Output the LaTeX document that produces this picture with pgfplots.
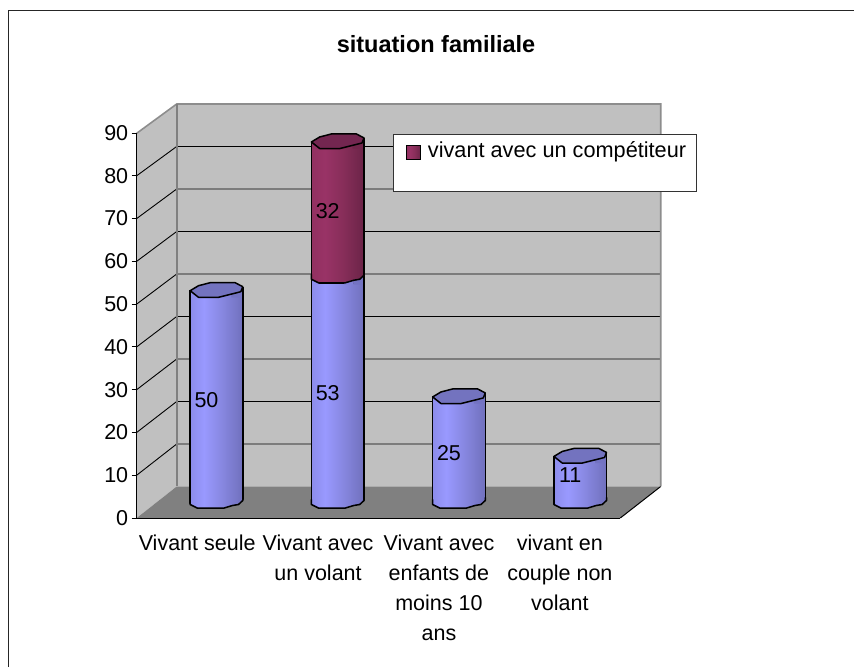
\documentclass[border=0pt]{standalone}
\usepackage{pgfplots}
\pgfplotsset{compat=1.18}
\usepackage{fontspec}
\setmainfont{Liberation Sans}
\definecolor{wall}{HTML}{C0C0C0}
\definecolor{floorc}{HTML}{808080}
\definecolor{capB}{HTML}{7373BF}
\definecolor{capR}{HTML}{732650}
\definecolor{barR}{HTML}{993366}
\definecolor{bL}{rgb}{0.56,0.56,0.94}
\definecolor{bM}{rgb}{0.50,0.50,0.84}
\definecolor{bD}{rgb}{0.45,0.45,0.76}
\definecolor{rL}{rgb}{0.57,0.19,0.38}
\definecolor{rM}{rgb}{0.50,0.17,0.33}
\definecolor{rD}{rgb}{0.44,0.15,0.29}
\pgfdeclarehorizontalshading{bluebar}{100bp}{rgb(0bp)=(0.55,0.55,0.92); rgb(25bp)=(0.55,0.55,0.92); rgb(38bp)=(0.60,0.60,1); rgb(55bp)=(0.53,0.53,0.88); rgb(75bp)=(0.44,0.44,0.74); rgb(100bp)=(0.44,0.44,0.74)}
\pgfdeclarehorizontalshading{redbar}{100bp}{rgb(0bp)=(0.57,0.19,0.38); rgb(25bp)=(0.57,0.19,0.38); rgb(38bp)=(0.60,0.20,0.40); rgb(55bp)=(0.53,0.18,0.35); rgb(75bp)=(0.42,0.14,0.28); rgb(100bp)=(0.42,0.14,0.28)}
% top of a cylinder: #1 cap colour, #2 left, #3 middle, #4 right collar colours
\newcommand\capmark[4]{%
 \fill[#2] (-26.3pt,-1pt)--(-18pt,-1.3pt)--(-26.3pt,5.3pt)--cycle;
 \fill[#3] (1pt,-1.2pt)--(15.3pt,-1.2pt)--(15.3pt,2pt)--(2pt,-1.3pt)--cycle;
 \fill[#4] (15pt,-1.2pt)--(26.3pt,-1.2pt)--(26.3pt,9.3pt)--(24.3pt,4.3pt)--(15pt,2pt)--cycle;
 \draw[black,line width=1.5pt] (-26.3pt,-2pt)--(-26.3pt,6pt) (26.3pt,-2pt)--(26.3pt,9pt);
 \path[draw=black,line width=1.5pt,line join=round,fill=#1] (-26.3pt,5.3pt)--(-18pt,10.3pt)--(-6.3pt,13.3pt)--(18.7pt,13.3pt)--(26.3pt,9.3pt)--(24.3pt,4.3pt)--(15.3pt,2pt)--(2pt,-1.3pt)--(-18pt,-1.3pt)--cycle;}
\newcommand\rimline{\draw[black,line width=1.5pt,line join=round] (-26.3pt,9pt)--(-26.3pt,4pt)--(-19pt,.3pt)--(7pt,.3pt)--(16pt,3pt)--(22pt,4pt)--(26.3pt,8pt)--(26.3pt,11pt);}
\pgfdeclareplotmark{capblue}{\capmark{capB}{bL}{bM}{bD}}
\pgfdeclareplotmark{capred}{\capmark{capR}{rL}{rM}{rD}}
\pgfdeclareplotmark{baseblue}{%
 \fill[floorc] (-28pt,-1.5pt)--(28pt,-1.5pt)--(28pt,9pt)--(26.3pt,8pt)--(22pt,4pt)--(16pt,3pt)--(7pt,.3pt)--(-19pt,.3pt)--(-26.3pt,4pt)--(-28pt,5pt)--cycle;
 \rimline}
\pgfdeclareplotmark{basered}{%
 \fill[bL] (-26.3pt,-1pt)--(-19pt,-1pt)--(-19pt,.3pt)--(-26.3pt,4pt)--cycle;
 \fill[bM] (6.5pt,-1pt)--(16pt,-1pt)--(16pt,3pt)--(7pt,.3pt)--cycle;
 \fill[bD] (15.8pt,-1pt)--(26.3pt,-1pt)--(26.3pt,8pt)--(22pt,4pt)--(15.8pt,3pt)--cycle;
 \draw[black,line width=1.5pt] (-26.3pt,-2pt)--(-26.3pt,4pt) (26.3pt,-2pt)--(26.3pt,8pt);
 \rimline}
\begin{document}
\begin{tikzpicture}[x=1pt,y=1pt]
\path[use as bounding box] (0,0) rectangle (854,667);
% frame (top and left only)
\draw[black!85,line width=1.5pt] (8.7,0) -- (8.7,656.5) -- (854,656.5);
% side wall, back wall, floor
\fill[wall] (136.7,149) -- (176.7,180.5) -- (176.7,563) -- (136.7,533.7) -- cycle;
\fill[wall] (176.7,180.5) rectangle (660.7,563);
\fill[floorc] (136.7,149) -- (176.7,180.5) -- (660.7,180.5) -- (620.3,149) -- cycle;
\draw[black,line width=1pt] (620.3,149) -- (660.7,180.5);
% gridlines
\foreach \v in {10,20,...,80}{
  \pgfmathsetmacro\yb{180.5+4.25*\v}
  \pgfmathsetmacro\yf{149+4.278*\v}
  \draw[black,line width=0.9pt] (136.7,\yf) -- (176.7,\yb) -- (660.7,\yb);
}
\draw[floorc!80!wall,line width=1.6pt] (136.7,533.7) -- (176.7,563) -- (660.7,563) -- (660.7,180.5);
\draw[floorc,line width=2pt] (176.7,180.5) -- (176.7,563);

% axis with ticks and category names
\begin{axis}[
  at={(136.7pt,149pt)},anchor=south west,
  scale only axis,width=483.6pt,height=385pt,
  xmin=-0.5,xmax=3.5,ymin=0,ymax=90,
  axis x line*=bottom,axis y line*=left,
  axis line style={-,black,line width=1pt},
  tick style={black,line width=1pt},
  tick align=outside,
  ytick={0,10,...,90},
  major tick length=5pt,
  xtick={0,1,2,3},
  xticklabels={Vivant seule,Vivant avec\\un volant,Vivant avec\\enfants de\\moins 10\\ans,vivant en\\couple non\\volant},
  x tick style={draw=none},
  minor tick length=6pt,
  minor xtick={-0.5,0.5,1.5,2.5,3.5},
  /pgf/number format/assume math mode=true,
  tick label style={font=\fontsize{21.5}{30}\selectfont,text=black},
  xticklabel style={align=center,anchor=north,yshift=-8.5pt},
  title={\bfseries situation familiale},
  title style={at={(0.619,1.216)},anchor=center,font=\fontsize{23.5}{26}\selectfont},
  clip=false,
]
\end{axis}

% bars
\begin{axis}[
  at={(155.85pt,158.5pt)},anchor=south west,
  scale only axis,width=485pt,height=382.5pt,
  xmin=-0.5,xmax=3.5,ymin=0,ymax=90,
  axis lines=none,clip=false,
  ybar stacked,bar width=52.6pt,
  legend style={at={(0.4884,0.978)},anchor=north west,draw=black!80,line width=1pt,fill=white,
     font=\fontsize{21.7}{24}\selectfont,inner xsep=8pt,inner ysep=4.5pt,legend cell align=left,row sep=20.5pt,
     /tikz/every even column/.append style={column sep=0pt}},
]
\addplot[forget plot,stack plots=false,draw=black,line width=1.5pt,shade,shading=bluebar] coordinates {(0,50)};
\addplot[forget plot,stack plots=false,draw=black,line width=1.5pt,shade,shading=bluebar] coordinates {(2,25)};
\addplot[forget plot,stack plots=false,draw=black,line width=1.5pt,shade,shading=bluebar] coordinates {(3,11)};
\addplot[forget plot,draw=black,line width=1.5pt,shade,shading=bluebar] coordinates {(1,53)};
\addplot[draw=black,line width=1.5pt,shade,shading=redbar,
   legend image code/.code={\draw[black,line width=1.2pt,fill=barR] (5pt,-9.5pt) rectangle (19.5pt,5pt); \path (24pt,0pt) circle (0pt);}]
  coordinates {(1,32)};
\addlegendentry{vivant avec un compétiteur}
\addlegendimage{empty legend}
\addlegendentry{}
\end{axis}

% caps, rims and value labels at the same data scale
\begin{axis}[
  at={(155.85pt,158.5pt)},anchor=south west,
  scale only axis,width=485pt,height=382.5pt,
  xmin=-0.5,xmax=3.5,ymin=0,ymax=90,
  axis lines=none,clip=false,
]
\addplot[only marks,mark=baseblue] coordinates {(0,0) (1,0) (2,0) (3,0)};
\addplot[only marks,mark=capblue] coordinates {(0,50) (2,25) (3,11)};
\addplot[only marks,mark=basered] coordinates {(1,53)};
\addplot[only marks,mark=capred] coordinates {(1,85)};
\addplot[only marks,mark=none,draw=none,point meta=explicit symbolic,
   nodes near coords,
   every node near coord/.append style={anchor=center,xshift=-10pt,text=black,font=\fontsize{21.5}{24}\selectfont}]
  table[x=x,y=y,meta=v]{
  x y v
  0 25.5 50
  1 27.2 53
  1 70 32
  2 13 25
  3 7.8 11
};
\end{axis}
\end{tikzpicture}
\end{document}
